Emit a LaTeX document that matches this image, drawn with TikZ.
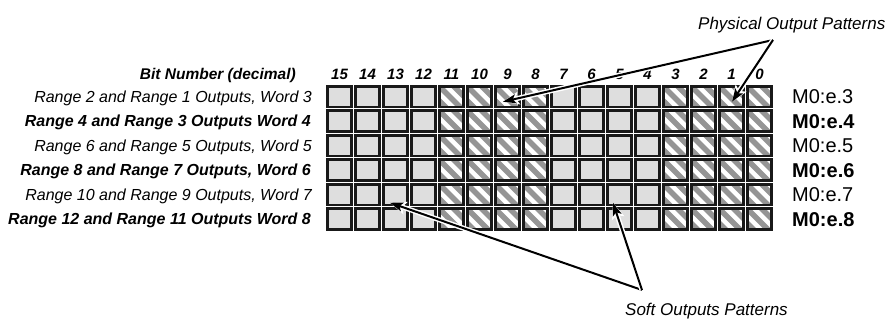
\documentclass[tikz,border=0pt]{standalone}
\usepackage{fontspec}
\setmainfont{Liberation Sans}
\usetikzlibrary{arrows.meta,calc}
\definecolor{cellgray}{HTML}{DEDEDE}
\definecolor{stripegray}{HTML}{959595}
\newcommand\myfs[1]{\fontsize{#1}{#1}\selectfont}
\begin{document}
\begin{tikzpicture}[x=1pt,y=-1pt,
  cellbox/.style={draw=black!90, line width=2.8pt, minimum width=24.2pt, minimum height=20.7pt,
    inner sep=0pt, outer sep=0pt, fill=cellgray},
  hatchbox/.style={cellbox, fill=white,
    path picture={\foreach \i in {-3,...,3}{
      \draw[stripegray, line width=5.4pt]
        ($(path picture bounding box.north west)+(\i*14.5-30,-30)$) -- ++(70,70);}}},
  bitnum/.style={font=\myfs{15}\bfseries\itshape, inner sep=0pt, anchor=base},
  rowlab/.style={font=\myfs{16}\itshape, inner sep=0pt, anchor=base east},
  rowlabb/.style={font=\myfs{16}\bfseries\itshape, inner sep=0pt, anchor=base east},
  wordlab/.style={font=\myfs{20}, inner sep=0pt, anchor=base west},
  wordlabb/.style={font=\myfs{20}\bfseries, inner sep=0pt, anchor=base west},
  callout/.style={font=\myfs{17}\itshape, inner sep=0pt, anchor=base west},
  arr/.style={line width=2pt, -{Stealth[length=13pt,width=9pt,inset=3pt]},
    preaction={draw=white, line width=5pt, -{Stealth[length=16pt,width=12.5pt,inset=3pt]}}}
]
\useasboundingbox (0,0) rectangle (892,320);

% cells
\foreach \r in {1,...,6}{
  \foreach \b in {15,14,13,12,7,6,5,4}{
    \node[cellbox] (c-\r-\b) at ({339.5+28*(15-\b)},{96.75+24.5*(\r-1)}) {};
  }
  \foreach \b in {11,10,9,8,3,2,1,0}{
    \node[hatchbox] (c-\r-\b) at ({339.5+28*(15-\b)},{96.75+24.5*(\r-1)}) {};
  }
}

% bit numbers
\foreach \b in {0,...,15}{
  \node[bitnum] (n-\b) at ({339.5+28*(15-\b)},80) {\b};
}
\node[font=\myfs{15.5}\bfseries\itshape, inner sep=0pt, anchor=base east] (bitlab) at (296,80) {Bit Number (decimal)};

% row labels
\node[rowlab]  (l-1) at (312,{96.75+5.7}) {Range 2 and Range 1 Outputs, Word 3};
\node[rowlabb] (l-2) at (311,{121.25+5.7}) {Range 4 and Range 3 Outputs Word 4};
\node[rowlab]  (l-3) at (312,{145.75+5.7}) {Range 6 and Range 5 Outputs, Word 5};
\node[rowlabb] (l-4) at (311,{170.25+5.7}) {Range 8 and Range 7 Outputs, Word 6};
\node[rowlab]  (l-5) at (312,{194.75+5.7}) {Range 10 and Range 9 Outputs, Word 7};
\node[rowlabb] (l-6) at (311,{219.25+5.7}) {Range 12 and Range 11 Outputs Word 8};

% word labels
\node[wordlab]  (w-1) at (792,{96.75+7}) {M0:e.3};
\node[wordlabb] (w-2) at (792,{121.25+7}) {M0:e.4};
\node[wordlab]  (w-3) at (792,{145.75+7}) {M0:e.5};
\node[wordlabb] (w-4) at (792,{170.25+7}) {M0:e.6};
\node[wordlab]  (w-5) at (792,{194.75+7}) {M0:e.7};
\node[wordlabb] (w-6) at (792,{219.25+7}) {M0:e.8};

% callouts
\node[callout] (phys) at (698,30) {Physical Output Patterns};
\node[callout] (soft) at (625,316) {Soft Outputs Patterns};

\coordinate (po) at (773,40);
\coordinate (so) at (642,290);

\draw[arr] (po) -- ($(c-1-9)+(-4.5,5)$);
\draw[arr] (po) -- ($(c-1-1)+(0.5,5)$);
\draw[arr] (so) -- ($(c-5-13)+(-5.5,8)$);
\draw[arr] (so) -- ($(c-5-5)+(-6.5,8)$);
\end{tikzpicture}
\end{document}
